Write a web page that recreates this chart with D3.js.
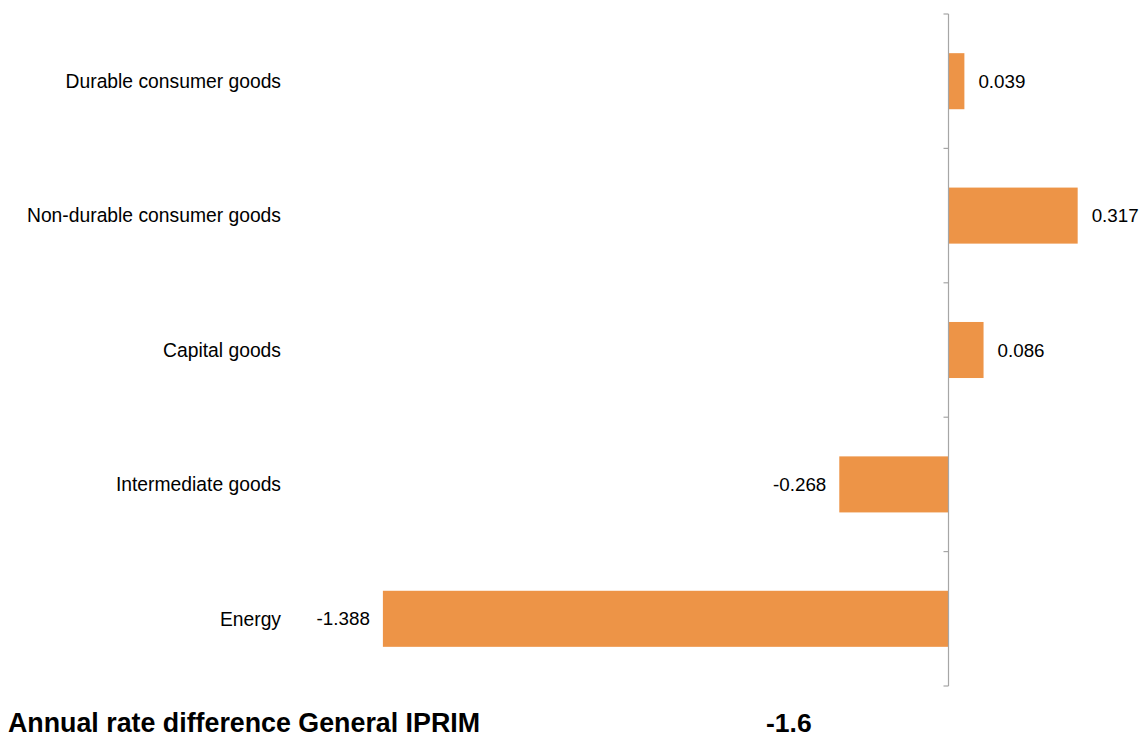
<!DOCTYPE html>
<html>
<head>
<meta charset="utf-8">
<script src="https://cdn.jsdelivr.net/npm/d3@7"></script>
<style>
  html, body { margin: 0; padding: 0; background: #fff; }
  svg { display: block; }
  text { font-family: "Liberation Sans", Arial, Helvetica, sans-serif; fill: #000; }
</style>
</head>
<body>
<svg id="chart" width="1144" height="739"></svg>
<script>
const categories = ["Durable consumer goods", "Non-durable consumer goods", "Capital goods", "Intermediate goods", "Energy"];
const values = [0.039, 0.317, 0.086, -0.268, -1.388];
const valueLabels = ["0.039", "0.317", "0.086", "-0.268", "-1.388"];
const footerLabel = "Annual rate difference General IPRIM";
const footerValue = "-1.6";

const svg = d3.select("#chart");

const zeroX = 948.5;
const pxPerUnit = 407.5;
const x = d3.scaleLinear()
  .domain([-1.6, 0.4])
  .range([zeroX - 1.6 * pxPerUnit, zeroX + 0.4 * pxPerUnit]);

const y = d3.scaleBand()
  .domain(categories)
  .range([14, 686])
  .paddingInner(0.583)
  .paddingOuter(0.2915);

const step = y.step();
const barColor = "#ED9447";
const axisColor = "#A6A6A6";

// bars
svg.append("g").selectAll("rect")
  .data(categories)
  .join("rect")
  .attr("x", (d, i) => Math.min(x(0), x(values[i])))
  .attr("y", d => y(d))
  .attr("width", (d, i) => Math.abs(x(values[i]) - x(0)))
  .attr("height", y.bandwidth())
  .attr("fill", barColor);

// vertical axis line
const axisG = svg.append("g");
axisG.append("line")
  .attr("x1", x(0)).attr("x2", x(0))
  .attr("y1", y.range()[0]).attr("y2", y.range()[1])
  .attr("stroke", axisColor).attr("stroke-width", 1.2);

// tick marks at band boundaries
const boundaries = categories.map(c => y(c) - y.paddingInner() * step / 2);
boundaries.push(y.range()[1]);
boundaries[0] = y.range()[0];
axisG.selectAll("line.tick")
  .data(boundaries)
  .join("line")
  .attr("class", "tick")
  .attr("x1", x(0) - 5).attr("x2", x(0))
  .attr("y1", d => d).attr("y2", d => d)
  .attr("stroke", axisColor).attr("stroke-width", 1.2);

// category labels
svg.append("g").selectAll("text")
  .data(categories)
  .join("text")
  .attr("x", 281)
  .attr("y", d => y(d) + y.bandwidth() / 2)
  .attr("dy", "0.35em")
  .attr("text-anchor", "end")
  .style("font-size", "19.3px")
  .text(d => d);

// value labels
svg.append("g").selectAll("text")
  .data(categories)
  .join("text")
  .attr("x", (d, i) => values[i] >= 0 ? x(values[i]) + 14 : x(values[i]) - 13)
  .attr("y", d => y(d) + y.bandwidth() / 2)
  .attr("dy", "0.35em")
  .attr("text-anchor", (d, i) => values[i] >= 0 ? "start" : "end")
  .style("font-size", "18.8px")
  .text((d, i) => valueLabels[i]);

// footer
svg.append("text")
  .attr("x", 8).attr("y", 732)
  .style("font-size", "26.8px").style("font-weight", "bold")
  .text(footerLabel);
svg.append("text")
  .attr("x", 766).attr("y", 732)
  .style("font-size", "26.5px").style("font-weight", "bold")
  .text(footerValue);
</script>
</body>
</html>
